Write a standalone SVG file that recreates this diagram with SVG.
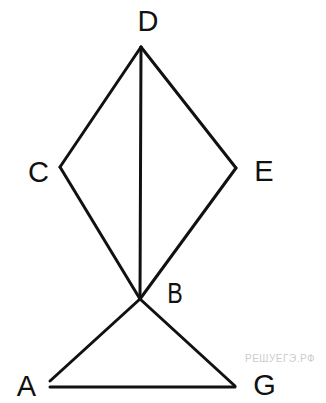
<svg xmlns="http://www.w3.org/2000/svg" width="326" height="403" viewBox="0 0 326 403">
<style>
.e{stroke:#111;stroke-width:3;fill:none;stroke-linecap:round;stroke-linejoin:round}
.l{font-family:"Liberation Sans",Arial,sans-serif;font-size:29px;fill:#111}
.w{font-family:"Liberation Sans",Arial,sans-serif;font-size:10px;fill:#ccc;letter-spacing:0.5px}
</style>
<rect width="326" height="403" fill="#fff"/>
<g id="edges">
<line class="e" x1="141" y1="47" x2="60" y2="167"/>
<line class="e" x1="141" y1="47" x2="236" y2="168"/>
<line class="e" x1="141" y1="47" x2="140" y2="299"/>
<line class="e" x1="60" y1="167" x2="140" y2="299"/>
<line class="e" x1="236" y1="168" x2="140" y2="299"/>
<line class="e" x1="140" y1="299" x2="50" y2="381"/>
<line class="e" x1="140" y1="299" x2="235" y2="386"/>
<line class="e" x1="50" y1="387" x2="235" y2="387"/>
</g>
<g id="D"><text class="l" x="148" y="31" text-anchor="middle">D</text></g>
<g id="C"><text class="l" x="38.5" y="182" text-anchor="middle">C</text></g>
<g id="E"><text class="l" x="264" y="181" text-anchor="middle">E</text></g>
<g id="B"><text class="l" x="175" y="303" text-anchor="middle" transform="translate(175 0) scale(0.8 1) translate(-175 0)">B</text></g>
<g id="A"><text class="l" x="26.5" y="396" text-anchor="middle">A</text></g>
<g id="G"><text class="l" x="264.5" y="395" text-anchor="middle">G</text></g>
<text class="w" x="245" y="362">РЕШУЕГЭ.РФ</text>
</svg>
